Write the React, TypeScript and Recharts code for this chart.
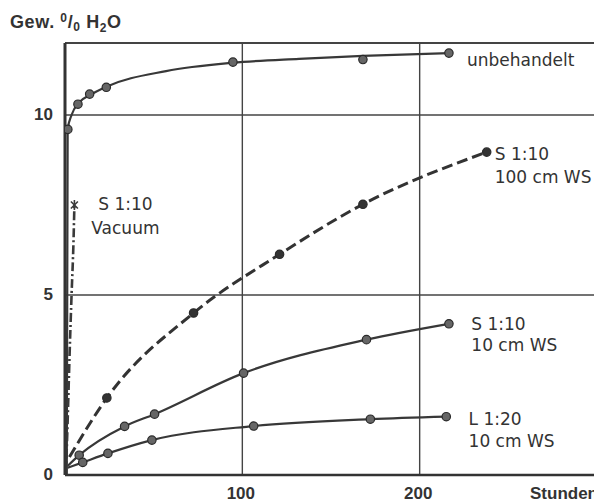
import React from 'react';
import { LineChart, Line, XAxis, YAxis, ReferenceLine, LabelList, Label } from 'recharts';

// Zeit (Stunden) und Gew.-% H2O

// unbehandelt: gezeichnete Ausgleichskurve und Messpunkte
const unbehandeltCurveX = [1, 1.5, 3.7, 8.2, 13.9, 23, 57, 94.5, 132, 168, 216.5];
const unbehandeltCurveY = [0, 9.6, 10.0, 10.36, 10.55, 10.78, 11.22, 11.45, 11.56, 11.64, 11.72];
const unbehandeltX = [1.6, 7.3, 13.9, 23.3, 94.7, 168, 216.5];
const unbehandeltY = [9.6, 10.3, 10.58, 10.77, 11.47, 11.54, 11.72];

const vacuumX = [0.5, 1.5, 2.5, 3.7, 4.8, 5.3];
const vacuumY = [0, 1.5, 3.2, 5.0, 6.5, 7.5];

const ws100X = [2.5, 23.6, 72.5, 121, 168, 237.8];
const ws100Y = [0.5, 2.14, 4.5, 6.13, 7.52, 8.97];

const ws10X = [1.5, 8, 33.6, 50.5, 100.7, 170, 216.5];
const ws10Y = [0.25, 0.55, 1.35, 1.69, 2.83, 3.76, 4.2];

const l20X = [1.5, 10, 24.2, 49, 106.4, 172.2, 215];
const l20Y = [0.2, 0.35, 0.6, 0.97, 1.36, 1.55, 1.62];

const xTicks = [100, 200];
const yTicks = [0, 5, 10];
const gridX = [100, 200];
const gridY = [5, 10, 12];
const xDomain: [number, number] = [0, 300];
const yDomain: [number, number] = [0, 12];

const unbehandeltLabel = ['unbehandelt'];
const vacuumLabel = ['S 1:10', 'Vacuum'];
const ws100Label = ['S 1:10', '100 cm WS'];
const ws10Label = ['S 1:10', '10 cm WS'];
const l20Label = ['L 1:20', '10 cm WS'];

const toPoints = (xs: number[], ys: number[]) => xs.map((x, i) => ({ x, y: ys[i] }));

const unbehandeltCurve = toPoints(unbehandeltCurveX, unbehandeltCurveY);
const unbehandelt = toPoints(unbehandeltX, unbehandeltY);
const vacuum = toPoints(vacuumX, vacuumY);
const ws100 = toPoints(ws100X, ws100Y);
const ws10 = toPoints(ws10X, ws10Y);
const l20 = toPoints(l20X, l20Y);

const INK = '#333';
const LABEL_FONT = '"DejaVu Sans", sans-serif';
const TICK_FONT = '"Liberation Sans", Arial, sans-serif';

const circleDot = (fill: string, skipFirst: boolean) => (props: any) => {
  const { cx, cy, index } = props;
  if ((skipFirst && index === 0) || cx == null || cy == null) return <g key={`d${index}`} />;
  return (
    <circle key={`d${index}`} cx={cx} cy={cy} r={4.2} fill={fill} stroke="#2a2a2a" strokeWidth={1.2} />
  );
};

const starDot = (lastIndex: number) => (props: any) => {
  const { cx, cy, index } = props;
  if (index !== lastIndex || cx == null || cy == null) return <g key={`s${index}`} />;
  return (
    <g key={`s${index}`} stroke="#3a3a3a" strokeWidth={1.6}>
      <line x1={cx - 3.5} y1={cy - 3.5} x2={cx + 3.5} y2={cy + 3.5} />
      <line x1={cx + 3.5} y1={cy - 3.5} x2={cx - 3.5} y2={cy + 3.5} />
      <line x1={cx} y1={cy - 5} x2={cx} y2={cy + 5} />
    </g>
  );
};

const endLabel = (lines: string[], lastIndex: number, dx: number, dys: number[], anchor: 'start' | 'middle' = 'start') =>
  (props: any) => {
    const { x, y, index } = props;
    if (index !== lastIndex || x == null || y == null) return null;
    return (
      <g>
        {lines.map((t, i) => (
          <text key={i} x={x + dx} y={y + dys[i]} textAnchor={anchor} fontFamily={LABEL_FONT} fontSize={17} fill={INK}>
            {t}
          </text>
        ))}
      </g>
    );
  };

const YTick = (props: any) => {
  const { x, y, payload } = props;
  return (
    <text x={x} y={y + 5} textAnchor="end" fontFamily={TICK_FONT} fontWeight="bold" fontSize={17} fill={INK}>
      {payload.value}
    </text>
  );
};

const XTick = (props: any) => {
  const { x, y, payload } = props;
  return (
    <text x={x - 1.5} y={y + 24} textAnchor="middle" fontFamily={TICK_FONT} fontWeight="bold" fontSize={17} fill={INK}>
      {payload.value}
    </text>
  );
};

const TitleLabel = () => (
  <text x={10} y={28} fontFamily={TICK_FONT} fontWeight="bold" fontSize={18} letterSpacing={0.6} fill={INK}>
    {'Gew. '}
    <tspan fontSize={12} dy={-6}>0</tspan>
    <tspan dy={6}>/</tspan>
    <tspan fontSize={12} dy={3}>0</tspan>
    <tspan dy={-3}>{' H'}</tspan>
    <tspan fontSize={12} dy={4}>2</tspan>
    <tspan dy={-4}>O</tspan>
  </text>
);

const StundenLabel = (props: any) => {
  const vb = props.viewBox || { x: 65, y: 475 };
  return (
    <text x={vb.x + 465} y={vb.y + 24} fontFamily={TICK_FONT} fontWeight="bold" fontSize={17} fill={INK}>
      Stunden
    </text>
  );
};

export default function App() {
  return (
    <div style={{ position: 'absolute', left: 0, top: 0, width: 594, height: 502, overflow: 'hidden', background: '#fff' }}>
      <LineChart width={600} height={502} margin={{ top: 43, right: 3, bottom: 0, left: 0 }}>
        <XAxis
          type="number"
          dataKey="x"
          domain={xDomain}
          ticks={xTicks}
          allowDataOverflow
          height={27}
          tickSize={0}
          tickMargin={0}
          tickLine={false}
          tick={<XTick />}
          axisLine={{ stroke: INK, strokeWidth: 2.5 }}
        >
          <Label content={<StundenLabel />} />
        </XAxis>
        <YAxis
          type="number"
          dataKey="y"
          domain={yDomain}
          ticks={yTicks}
          allowDataOverflow
          width={65}
          tickSize={0}
          tickMargin={12}
          tickLine={false}
          tick={<YTick />}
          axisLine={{ stroke: INK, strokeWidth: 3 }}
        >
          <Label content={<TitleLabel />} />
        </YAxis>
        {gridY.map((v) => (
          <ReferenceLine key={`gy${v}`} y={v} stroke="#444" strokeWidth={v === 12 ? 2 : 1.4} />
        ))}
        {gridX.map((v) => (
          <ReferenceLine key={`gx${v}`} x={v} stroke="#444" strokeWidth={1.4} />
        ))}
        <Line
          data={unbehandeltCurve}
          dataKey="y"
          type="monotone"
          stroke="#383838"
          strokeWidth={2.2}
          dot={false}
          activeDot={false}
          isAnimationActive={false}
        />
        <Line
          data={unbehandelt}
          dataKey="y"
          stroke="none"
          strokeWidth={0}
          dot={circleDot('#666', false)}
          activeDot={false}
          isAnimationActive={false}
        >
          <LabelList dataKey="y" content={endLabel(unbehandeltLabel, unbehandelt.length - 1, 18, [13.4])} />
        </Line>
        <Line
          data={vacuum}
          dataKey="y"
          type="monotone"
          stroke="#3a3a3a"
          strokeWidth={2.6}
          strokeDasharray="9 3 2 3"
          dot={starDot(vacuum.length - 1)}
          activeDot={false}
          isAnimationActive={false}
        >
          <LabelList dataKey="y" content={endLabel(vacuumLabel, vacuum.length - 1, 51, [4.5, 28.5], 'middle')} />
        </Line>
        <Line
          data={ws100}
          dataKey="y"
          type="monotone"
          stroke="#333"
          strokeWidth={3}
          strokeDasharray="11 5"
          dot={circleDot('#333', true)}
          activeDot={false}
          isAnimationActive={false}
        >
          <LabelList dataKey="y" content={endLabel(ws100Label, ws100.length - 1, 8, [8.4, 31])} />
        </Line>
        <Line
          data={ws10}
          dataKey="y"
          type="monotone"
          stroke="#383838"
          strokeWidth={2.2}
          dot={circleDot('#666', true)}
          activeDot={false}
          isAnimationActive={false}
        >
          <LabelList dataKey="y" content={endLabel(ws10Label, ws10.length - 1, 22.4, [5.7, 27.4])} />
        </Line>
        <Line
          data={l20}
          dataKey="y"
          type="monotone"
          stroke="#383838"
          strokeWidth={2.2}
          dot={circleDot('#666', true)}
          activeDot={false}
          isAnimationActive={false}
        >
          <LabelList dataKey="y" content={endLabel(l20Label, l20.length - 1, 22.3, [8.3, 30])} />
        </Line>
      </LineChart>
    </div>
  );
}
